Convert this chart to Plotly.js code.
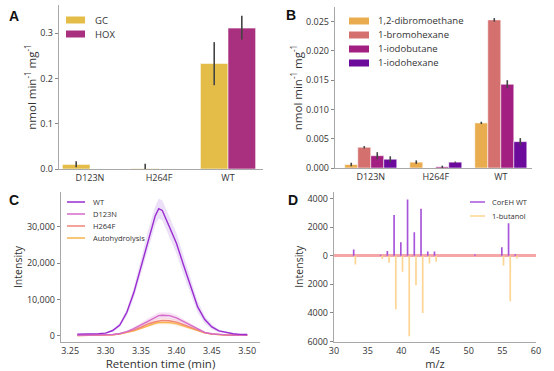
<!DOCTYPE html>
<html><head><meta charset="utf-8">
<script src="https://cdn.plot.ly/plotly-3.0.1.min.js"></script>
<style>html,body{margin:0;padding:0;background:#fff}#chart{width:554px;height:371px}</style>
</head><body><div id="chart"></div>
<script>
// ---------- Panel A ----------
const mutants = ['D123N', 'H264F', 'WT'];
const gcRate = [0.010, 0.001, 0.233];
const gcErrUp = [0.007, 0.0107, 0.047];
const gcErrDown = [0.006, 0.001, 0.048];
const hoxRate = [0, 0, 0.311];
const hoxErrUp = [0, 0, 0.027];
const hoxErrDown = [0, 0, 0.025];
const assayNames = ['GC', 'HOX'];

// ---------- Panel B ----------
const substrateNames = ['1,2-dibromoethane', '1-bromohexane', '1-iodobutane', '1-iodohexane'];
const dibromoethane = [0.0006, 0.0010, 0.0077];
const dibromoethaneErr = [0.0003, 0.0003, 0.0002];
const bromohexane = [0.00354, 0, 0.0253];
const bromohexaneErr = [0.0002, 0, 0.0003];
const iodobutane = [0.0021, 0.0002, 0.0143];
const iodobutaneErr = [0.0006, 0.0002, 0.0007];
const iodohexane = [0.0015, 0.0010, 0.0045];
const iodohexaneErr = [0.0005, 0.0001, 0.0006];

// ---------- Panel C ----------
const retentionTime = [3.26,3.27,3.28,3.29,3.30,3.31,3.32,3.33,3.34,3.35,3.36,3.37,3.375,3.38,3.39,3.40,3.41,3.42,3.43,3.44,3.45,3.46,3.47,3.48,3.49,3.50];
const wtIntensity = [500,500,550,650,800,1500,3000,6500,12000,19000,26500,33000,35000,34500,30000,25500,19500,13500,8000,4500,2500,1400,900,600,450,400];
const wtSd = [100,100,100,100,150,300,600,1000,1500,2000,2500,2600,2700,2700,2800,2800,2600,2100,1600,1100,700,400,250,100,100,100];
const d123nIntensity = [200,200,200,250,300,400,700,1200,2000,3000,4200,5200,5600,5700,5600,5000,4000,2900,1800,1000,600,400,300,250,250,250];
const d123nSd = [50,50,50,50,60,80,150,250,400,550,700,800,850,850,850,800,650,500,350,200,120,80,60,50,50,50];
const h264fIntensity = [150,150,150,200,250,350,600,1000,1600,2400,3300,3900,4200,4300,4200,3800,3100,2300,1500,900,500,350,250,200,200,200];
const h264fSd = [40,40,40,40,50,60,100,200,300,450,600,700,750,750,750,700,600,450,300,180,100,60,50,40,40,40];
const autoIntensity = [150,150,150,180,220,300,500,850,1400,2100,2900,3500,3700,3750,3700,3400,2800,2100,1400,850,500,300,220,200,200,200];
const autoSd = [30,30,30,30,40,50,80,150,250,350,450,500,550,550,550,500,450,350,250,150,90,60,40,30,30,30];
const chromNames = ['WT', 'D123N', 'H264F', 'Autohydrolysis'];

// ---------- Panel D ----------
const mz = [33, 37, 38, 39, 40, 41, 42, 43, 44, 45, 51, 55, 56, 57];
const corehWT = [445, 75, 330, 2850, 940, 3930, 1640, 3280, 290, 300, 95, 590, 2270, 100];
const butanol = [610, 235, 490, 3740, 1120, 5640, 2060, 4000, 540, 420, 0, 680, 3190, 190];
const specNames = ['CorEH WT', '1-butanol'];

// ---------- styling ----------
const W = 554, H = 371;
const px = x => x / W, py = y => 1 - y / H;
const FONT = 'Open Sans, Liberation Sans, sans-serif';
const TXT = '#333333';
const AXC = '#a8a8a8';
const colA = ['#e3bd47', '#a8307f'];
const colB = ['#e9ad4f', '#d4716f', '#a21e80', '#6b0a9b'];
const colC = ['#9a2bd0', '#d56bc8', '#f0857a', '#f9b54e'];
const bandC = ['rgba(170,110,225,0.22)', 'rgba(220,120,205,0.22)', 'rgba(240,140,125,0.18)', 'rgba(250,190,100,0.18)'];
const colD = ['#a855dc', '#fdd491'];
const errStyle = {color: '#444444', thickness: 1.6, width: 0};
const barLine = {color: 'rgba(255,255,255,0.55)', width: 1};

const traces = [];
// A
traces.push({type: 'bar', x: mutants, y: gcRate, name: assayNames[0], xaxis: 'x', yaxis: 'y',
  marker: {color: colA[0], line: barLine},
  error_y: Object.assign({type: 'data', symmetric: false, array: gcErrUp, arrayminus: gcErrDown}, errStyle)});
traces.push({type: 'bar', x: mutants, y: hoxRate, name: assayNames[1], xaxis: 'x', yaxis: 'y',
  marker: {color: colA[1], line: barLine},
  error_y: Object.assign({type: 'data', symmetric: false, array: hoxErrUp, arrayminus: hoxErrDown}, errStyle)});
// B
const bVals = [dibromoethane, bromohexane, iodobutane, iodohexane];
const bErrs = [dibromoethaneErr, bromohexaneErr, iodobutaneErr, iodohexaneErr];
bVals.forEach((v, i) => traces.push({type: 'bar', x: mutants, y: v, name: substrateNames[i], xaxis: 'x2', yaxis: 'y2',
  marker: {color: colB[i], line: barLine},
  error_y: Object.assign({type: 'data', array: bErrs[i]}, errStyle)}));
// C bands then lines
const cVals = [wtIntensity, d123nIntensity, h264fIntensity, autoIntensity];
const cSds = [wtSd, d123nSd, h264fSd, autoSd];
cVals.forEach((v, i) => {
  traces.push({type: 'scatter', mode: 'lines', x: retentionTime, y: v.map((d, j) => d - cSds[i][j]),
    line: {width: 0}, xaxis: 'x3', yaxis: 'y3', showlegend: false, hoverinfo: 'skip'});
  traces.push({type: 'scatter', mode: 'lines', x: retentionTime, y: v.map((d, j) => d + cSds[i][j]),
    line: {width: 0}, fill: 'tonexty', fillcolor: bandC[i], xaxis: 'x3', yaxis: 'y3', showlegend: false, hoverinfo: 'skip'});
});
for (let i = cVals.length - 1; i >= 0; i--) {
  traces.push({type: 'scatter', mode: 'lines', x: retentionTime, y: cVals[i], name: chromNames[i],
    line: {color: colC[i], width: 1.4}, xaxis: 'x3', yaxis: 'y3'});
}
// D
traces.push({type: 'bar', x: mz, y: corehWT, name: specNames[0], width: 0.25, offset: -0.2,
  marker: {color: colD[0]}, xaxis: 'x4', yaxis: 'y4'});
traces.push({type: 'bar', x: mz, y: butanol.map(v => -v), name: specNames[1], width: 0.25, offset: 0.05,
  marker: {color: colD[1]}, xaxis: 'x4', yaxis: 'y4'});

// manual compact legends
const shapes = [], annotations = [];
function legend(x0, x1, tx, ys, labels, colors, kind, fs, thick) {
  labels.forEach((lab, i) => {
    if (kind === 'rect') {
      shapes.push({type: 'rect', xref: 'paper', yref: 'paper', x0: px(x0), x1: px(x1),
        y0: py(ys[i] + thick / 2), y1: py(ys[i] - thick / 2), fillcolor: colors[i], line: {width: 0}});
    } else {
      shapes.push({type: 'line', xref: 'paper', yref: 'paper', x0: px(x0), x1: px(x1),
        y0: py(ys[i]), y1: py(ys[i]), line: {color: colors[i], width: thick}});
    }
    annotations.push({xref: 'paper', yref: 'paper', x: px(tx), y: py(ys[i]), text: lab, showarrow: false,
      xanchor: 'left', yanchor: 'middle', font: {family: FONT, size: fs, color: TXT}});
  });
}
legend(66, 85, 93, [20, 34], assayNames, colA, 'rect', 9.5, 7);
legend(349, 369, 376, [21, 35, 49, 63], substrateNames, colB, 'rect', 9.5, 7);
legend(67, 85, 91, [202, 214, 226, 238], chromNames, colC, 'line', 7.5, 1.5);
legend(470, 485, 490, [202, 216], specNames, colD, 'line', 7.5, 1.5);

// panel letters
[['A', 14, 16], ['B', 291, 15], ['C', 14, 200], ['D', 293, 200]].forEach(l => annotations.push({
  xref: 'paper', yref: 'paper', x: px(l[1]), y: py(l[2]), text: '<b>' + l[0] + '</b>', showarrow: false,
  xanchor: 'center', yanchor: 'middle', font: {family: 'Liberation Sans, Arial, sans-serif', size: 14, color: '#111'}}));

const baseAxis = {showline: true, linecolor: AXC, linewidth: 1.2, showgrid: false, zeroline: false,
  tickfont: {family: FONT, size: 9, color: TXT}, ticks: '', ticklen: 3, tickcolor: '#888'};
const ax = o => Object.assign({}, baseAxis, o);
const ttl = (t, s, fs) => ({text: t, font: {family: FONT, size: fs || 11, color: TXT}, standoff: s});

const layout = {
  width: W, height: H, margin: {l: 0, r: 0, t: 0, b: 0}, paper_bgcolor: '#fff', plot_bgcolor: '#fff',
  showlegend: false, barmode: 'group', bargap: 0.2, bargroupgap: 0,
  font: {family: FONT, color: TXT},
  xaxis: ax({domain: [px(59), px(263)], anchor: 'y', type: 'category', range: [-0.449, 2.507]}),
  yaxis: ax({domain: [py(169), py(5)], anchor: 'x', range: [0, 0.362], tickvals: [0, 0.1, 0.2, 0.3], tickformat: '.1f',
    ticks: 'outside', title: ttl('nmol min<sup>-1</sup> mg<sup>-1</sup>', 1, 11.5)}),
  xaxis2: ax({domain: [px(335), px(532)], anchor: 'y2', type: 'category', range: [-0.55, 2.48]}),
  yaxis2: ax({domain: [py(168), py(7)], anchor: 'x2', range: [0, 0.0275], tickvals: [0, 0.005, 0.01, 0.015, 0.02, 0.025],
    tickformat: '.3f', ticks: 'outside', title: ttl('nmol min<sup>-1</sup> mg<sup>-1</sup>', 1, 11.5)}),
  xaxis3: ax({domain: [px(61), px(260)], anchor: 'y3', range: [3.237, 3.518], tickvals: [3.25, 3.30, 3.35, 3.40, 3.45, 3.50],
    tickformat: '.2f', title: ttl('Retention time (min)', 2, 11.5)}),
  yaxis3: ax({domain: [py(342), py(192)], anchor: 'x3', range: [-1650, 39560], tickvals: [0, 10000, 20000, 30000],
    tickformat: ',d', ticks: 'outside', title: ttl('Intensity', 2, 10.5)}),
  xaxis4: ax({domain: [px(334), px(536)], anchor: 'y4', range: [30, 60], tickvals: [30, 35, 40, 45, 50, 55, 60],
    title: ttl('m/z', 1, 11)}),
  yaxis4: ax({domain: [py(341.5), py(192)], anchor: 'x4', range: [-6000, 4460],
    tickvals: [-6000, -4000, -2000, 0, 2000, 4000], ticktext: ['6000', '4000', '2000', '0', '2000', '4000'],
    ticks: 'outside', zeroline: true, zerolinecolor: '#f5a7a7', zerolinewidth: 2.5, title: ttl('Intensity', 1, 10.5)}),
  shapes: shapes, annotations: annotations
};
Plotly.newPlot('chart', traces, layout, {displayModeBar: false, staticPlot: true});
</script></body></html>
